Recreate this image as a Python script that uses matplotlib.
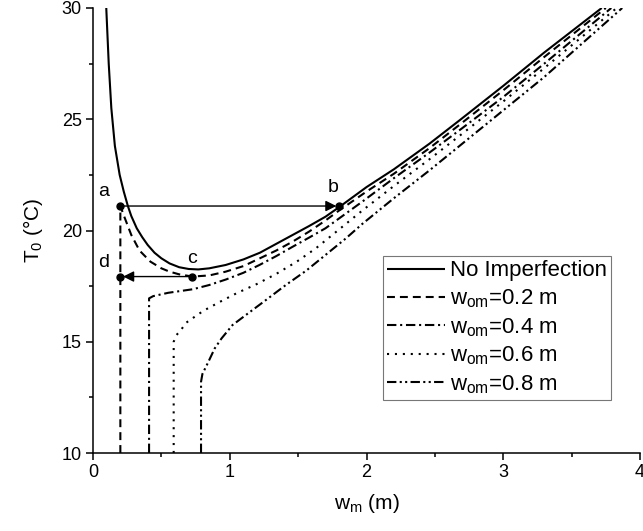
import matplotlib
matplotlib.use("Agg")
import matplotlib.pyplot as plt

plt.rcParams['font.family'] = ['Liberation Sans', 'DejaVu Sans']
plt.rcParams['mathtext.fontset'] = 'custom'
plt.rcParams['mathtext.rm'] = 'Liberation Sans'
plt.rcParams['mathtext.it'] = 'Liberation Sans'

# --- data ---
w_none = [0.097, 0.115, 0.134, 0.16, 0.195, 0.225, 0.255, 0.28, 0.32, 0.36, 0.40, 0.45, 0.50, 0.56,
          0.63, 0.70, 0.77, 0.85, 0.97, 1.10, 1.22, 1.34, 1.46, 1.58, 1.70, 1.80, 2.0, 2.2, 2.46,
          2.68, 3.0, 3.3, 3.72]
T_none = [30.0, 27.5, 25.5, 23.8, 22.5, 21.75, 21.1, 20.65, 20.1, 19.7, 19.35, 19.0, 18.75, 18.52,
          18.35, 18.27, 18.25, 18.3, 18.45, 18.7, 19.0, 19.4, 19.8, 20.2, 20.62, 21.05, 21.95, 22.75, 23.9,
          24.95, 26.5, 28.0, 30.0]

w_02 = [0.2, 0.2, 0.23, 0.28, 0.34, 0.42, 0.50, 0.56, 0.63, 0.727, 0.85, 0.97, 1.10, 1.22, 1.34,
        1.46, 1.58, 1.70, 1.80, 2.0, 2.2, 2.46, 2.68, 3.0, 3.3, 3.75]
T_02 = [10.0, 21.1, 20.6, 19.8, 19.1, 18.6, 18.3, 18.15, 18.03, 17.93, 17.98, 18.15, 18.4, 18.75, 19.1,
        19.5, 19.95, 20.45, 20.9, 21.75, 22.55, 23.7, 24.75, 26.3, 27.8, 30.0]

w_04 = [0.41, 0.41, 0.44, 0.55, 0.73, 0.85, 0.973, 1.10, 1.217, 1.34, 1.46, 1.58, 1.70, 1.97,
        2.2, 2.46, 2.7, 3.0, 3.3, 3.79]
T_04 = [10.0, 16.95, 17.05, 17.2, 17.36, 17.55, 17.8, 18.1, 18.45, 18.85, 19.27, 19.68, 20.1, 21.3,
        22.35, 23.5, 24.6, 26.0, 27.5, 30.0]

w_06 = [0.59, 0.59, 0.61, 0.64, 0.68, 0.75, 0.81, 0.93, 1.05, 1.20, 1.34, 1.49, 1.63, 1.80, 1.97,
        2.2, 2.46, 2.7, 3.0, 3.3, 3.83]
T_06 = [10.0, 15.0, 15.3, 15.5, 15.85, 16.15, 16.4, 16.8, 17.18, 17.6, 18.05, 18.6, 19.2, 20.05, 20.9,
        22.0, 23.2, 24.35, 25.8, 27.3, 30.0]

w_08 = [0.79, 0.79, 0.80, 0.84, 0.89, 0.94, 1.02, 1.15, 1.27, 1.41, 1.56, 1.70, 1.85, 1.97,
        2.2, 2.46, 2.7, 3.0, 3.3, 3.87]
T_08 = [10.0, 13.2, 13.55, 14.05, 14.7, 15.15, 15.75, 16.35, 16.9, 17.55, 18.2, 18.9, 19.65, 20.3,
        21.45, 22.7, 23.9, 25.4, 26.9, 30.0]

series_labels = ['No Imperfection', r'w$_{\mathrm{om}}$=0.2 m', r'w$_{\mathrm{om}}$=0.4 m',
                 r'w$_{\mathrm{om}}$=0.6 m', r'w$_{\mathrm{om}}$=0.8 m']

pt_labels = ['a', 'b', 'c', 'd']
pt_w = [0.2, 1.80, 0.727, 0.2]
pt_T = [21.1, 21.1, 17.93, 17.93]

x_ticks = [0, 1, 2, 3, 4]
y_ticks = [10, 15, 20, 25, 30]

# --- figure ---
fig = plt.figure(figsize=(6.43, 5.31), dpi=100)
ax = fig.add_axes([93/643, 1 - 453/531, (640 - 93)/643, (453 - 8)/531])

lw = 1.5
ax.plot(w_none, T_none, color='black', lw=lw, solid_capstyle='butt', solid_joinstyle='round',
        label=series_labels[0])
ax.plot(w_02, T_02, color='black', lw=lw, dashes=(3.8, 2.4), label=series_labels[1])
ax.plot(w_04, T_04, color='black', lw=lw, dashes=(4.5, 1.8, 1.0, 1.8), label=series_labels[2])
ax.plot(w_06, T_06, color='black', lw=lw, dashes=(1.0, 2.8), label=series_labels[3])
ax.plot(w_08, T_08, color='black', lw=lw, dashes=(4.5, 1.6, 1.0, 1.6, 1.0, 1.6), label=series_labels[4])

# arrows a->b and c->d
ax.annotate('', xy=(pt_w[1], pt_T[1]), xytext=(pt_w[0], pt_T[0]),
            arrowprops=dict(arrowstyle='-|>', color='black', lw=1.0, mutation_scale=16,
                            shrinkA=0, shrinkB=2))
ax.annotate('', xy=(pt_w[3], pt_T[3]), xytext=(pt_w[2], pt_T[2]),
            arrowprops=dict(arrowstyle='-|>', color='black', lw=1.0, mutation_scale=16,
                            shrinkA=0, shrinkB=2))
ax.plot(pt_w, pt_T, 'o', color='black', ms=5, zorder=5)
offsets = {'a': (-12, 4), 'b': (-4, 7), 'c': (0, 7), 'd': (-12, 4)}
for lab, x, y in zip(pt_labels, pt_w, pt_T):
    dx, dy = offsets[lab]
    ax.annotate(lab, (x, y), xytext=(dx, dy), textcoords='offset points',
                fontsize=14, ha='center', va='bottom')

ax.set_xlim(0, 4)
ax.set_ylim(10, 30)
ax.set_xticks(x_ticks)
ax.set_yticks(y_ticks)
ax.set_xticks([0.5, 1.5, 2.5, 3.5], minor=True)
ax.set_yticks([12.5, 17.5, 22.5, 27.5], minor=True)
ax.tick_params(which='major', direction='out', length=5, width=1.1, labelsize=13, pad=3)
ax.tick_params(which='minor', direction='out', length=3, width=1.1)
for s in ['top', 'right']:
    ax.spines[s].set_visible(False)
for s in ['left', 'bottom']:
    ax.spines[s].set_linewidth(1.1)

ax.set_xlabel(r'w$_{\mathrm{m}}$ (m)', fontsize=15, labelpad=8)
ax.set_ylabel(r'T$_{\mathrm{0}}$ (°C)', fontsize=15, labelpad=12)

leg = ax.legend(loc='upper left', bbox_to_anchor=((383 - 93)/547, 1 - (256 - 8)/445),
                fontsize=16, frameon=True, fancybox=False, edgecolor='#555555',
                handlelength=2.6, handletextpad=0.2, labelspacing=0.27, borderpad=0.2,
                borderaxespad=0)
leg.get_frame().set_linewidth(0.8)

fig.savefig('out.png', dpi=100)
